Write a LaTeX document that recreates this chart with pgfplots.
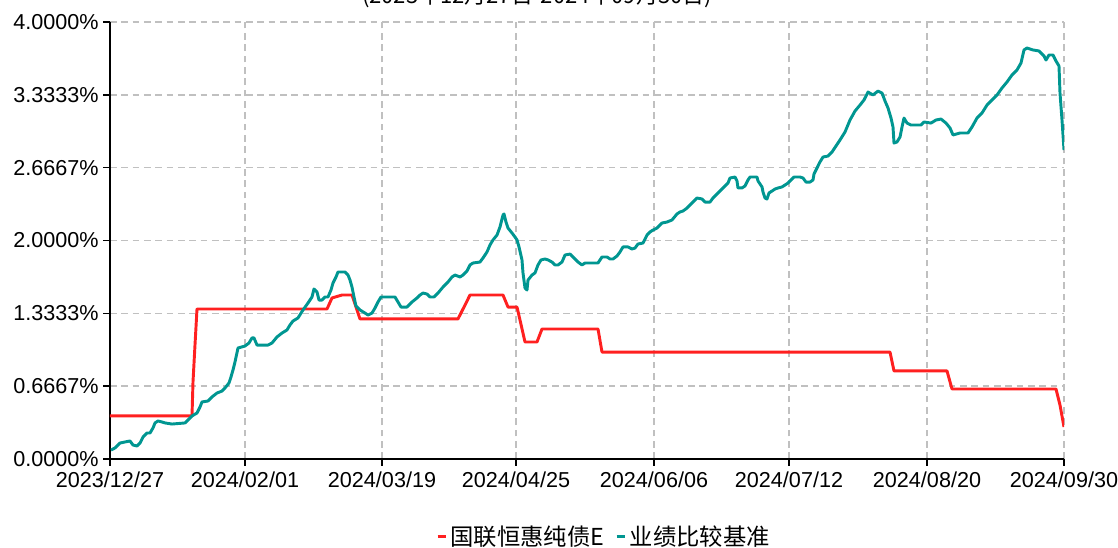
\documentclass[border=0pt]{standalone}
\usepackage{pgfplots}
\pgfplotsset{compat=1.18}
\usepackage{fontspec}
\setmainfont{Liberation Sans}
\newfontfamily\cjk{Noto Sans CJK SC}
\definecolor{fundred}{RGB}{255,32,32}
\definecolor{benchteal}{RGB}{0,150,145}
\definecolor{gridgray}{RGB}{192,192,192}

\pgfplotstableread{
x y
0 0.394
82 0.394
83 0.705
85 1.044
87 1.373
217 1.373
222 1.474
232 1.501
242 1.501
246 1.391
250 1.282
348 1.282
354 1.391
360 1.501
393 1.501
398 1.391
407 1.391
410 1.272
415 1.071
427 1.071
432 1.190
488 1.190
492 0.979
780 0.979
784 0.806
837 0.806
842 0.641
946 0.641
950 0.494
954 0.293
}\fundtable

\pgfplotstableread{
x y
1 0.082
5 0.101
10 0.146
15 0.156
20 0.165
23 0.128
27 0.119
30 0.146
33 0.201
37 0.238
40 0.238
43 0.284
45 0.330
48 0.348
52 0.339
55 0.330
62 0.320
75 0.330
78 0.357
82 0.394
87 0.421
90 0.476
92 0.522
98 0.531
102 0.568
107 0.604
112 0.622
115 0.650
119 0.696
121 0.751
123 0.815
125 0.888
128 1.016
135 1.034
139 1.062
142 1.108
144 1.108
147 1.043
158 1.043
162 1.062
167 1.117
172 1.153
177 1.181
180 1.227
183 1.263
188 1.291
193 1.364
198 1.428
202 1.483
204 1.556
207 1.529
209 1.455
212 1.455
215 1.483
218 1.483
221 1.547
223 1.611
226 1.666
228 1.712
235 1.712
238 1.684
240 1.638
242 1.574
244 1.483
246 1.400
250 1.364
255 1.336
258 1.318
262 1.336
265 1.382
268 1.437
271 1.483
285 1.483
288 1.437
291 1.391
297 1.391
302 1.437
307 1.474
310 1.501
313 1.519
317 1.510
320 1.483
324 1.483
328 1.519
333 1.574
338 1.620
342 1.666
345 1.684
350 1.666
353 1.684
357 1.721
360 1.776
363 1.794
370 1.803
373 1.840
377 1.895
380 1.959
383 2.005
387 2.050
390 2.124
393 2.233
394 2.243
396 2.169
398 2.114
402 2.069
405 2.032
407 2.005
409 1.941
412 1.822
413 1.703
415 1.565
417 1.547
418 1.638
422 1.684
425 1.703
428 1.776
431 1.822
435 1.831
438 1.822
442 1.803
445 1.776
448 1.776
452 1.803
455 1.867
460 1.876
463 1.849
468 1.803
472 1.776
475 1.794
488 1.794
492 1.849
497 1.849
500 1.831
503 1.831
507 1.858
510 1.895
513 1.941
518 1.941
522 1.922
525 1.931
528 1.968
533 1.977
537 2.050
540 2.078
543 2.096
547 2.114
552 2.160
557 2.169
562 2.188
567 2.243
570 2.261
573 2.270
577 2.297
580 2.325
583 2.352
587 2.389
592 2.380
595 2.352
600 2.352
603 2.389
608 2.435
613 2.481
618 2.526
620 2.572
625 2.581
627 2.545
628 2.481
632 2.481
635 2.499
638 2.554
640 2.581
647 2.581
648 2.545
652 2.490
653 2.444
655 2.389
657 2.380
659 2.435
662 2.453
665 2.471
668 2.481
672 2.490
675 2.508
678 2.526
682 2.563
684 2.581
690 2.581
693 2.572
696 2.535
700 2.535
703 2.554
704 2.609
707 2.664
710 2.719
713 2.764
718 2.773
722 2.810
726 2.865
730 2.920
735 2.993
740 3.103
745 3.185
750 3.240
754 3.286
758 3.359
763 3.332
768 3.368
772 3.350
775 3.277
778 3.213
781 3.121
783 3.039
784 2.892
787 2.902
790 2.947
792 3.039
794 3.121
797 3.075
801 3.057
811 3.057
814 3.085
821 3.075
826 3.103
831 3.112
836 3.075
840 3.030
843 2.966
850 2.984
858 2.984
862 3.039
867 3.121
872 3.167
877 3.240
882 3.286
887 3.332
892 3.396
897 3.451
902 3.515
907 3.561
911 3.625
914 3.744
917 3.762
923 3.744
929 3.735
934 3.689
936 3.652
939 3.698
943 3.698
946 3.643
949 3.597
950 3.350
952 3.103
954 2.828
}\benchtable

\begin{document}
\begin{tikzpicture}
\begin{axis}[
  at={(0pt,0pt)}, anchor=south west,
  scale only axis,
  width=715.5pt, height=327.75pt,
  xmin=0, xmax=954, ymin=0, ymax=4,
  xtick={0,135,272,406,544,679,817,954},
  xticklabels={2023/12/27,2024/02/01,2024/03/19,2024/04/25,2024/06/06,2024/07/12,2024/08/20,2024/09/30},
  ytick={0,0.66667,1.33333,2,2.66667,3.33333,4},
  yticklabels={0.0000\%,0.6667\%,1.3333\%,2.0000\%,2.6667\%,3.3333\%,4.0000\%},
  axis x line*=bottom, axis y line*=left,
  axis line style={line width=1.5pt, black, -},
  grid=major,
  major grid style={gridgray, line width=1.1pt, dash pattern=on 5pt off 3.5pt},
  tick align=outside,
  major tick length=5pt,
  tick style={black, line width=1.1pt},
  tick label style={font=\fontsize{16.2}{18}\selectfont, text=black},
  xticklabel style={yshift=-1pt},
  yticklabel style={xshift=0pt},
  legend columns=2,
  legend style={at={(0.518,-0.178)}, anchor=center, draw=none, fill=none,
    font=\fontsize{17.5}{19}\selectfont\cjk,
    /tikz/every even column/.append style={column sep=6pt}},
  legend image code/.code={\draw[#1, line width=2.5pt] (0pt,0pt) -- (6.5pt,0pt);},
]
\addplot[fundred, line width=2.2pt, line join=round] table[x=x, y=y] {\fundtable};
\addlegendentry{国联恒惠纯债E}
\addplot[benchteal, line width=2.2pt, line join=round] table[x=x, y=y] {\benchtable};
\addlegendentry{业绩比较基准}
\end{axis}
\node[anchor=base, font=\fontsize{16.5}{18}\selectfont\cjk] at (320.25pt,341.25pt) {(2023年12月27日-2024年09月30日)};
\pgfresetboundingbox
\useasboundingbox (-82.5pt,-66pt) rectangle (756pt,344.25pt);
\end{tikzpicture}
\end{document}
